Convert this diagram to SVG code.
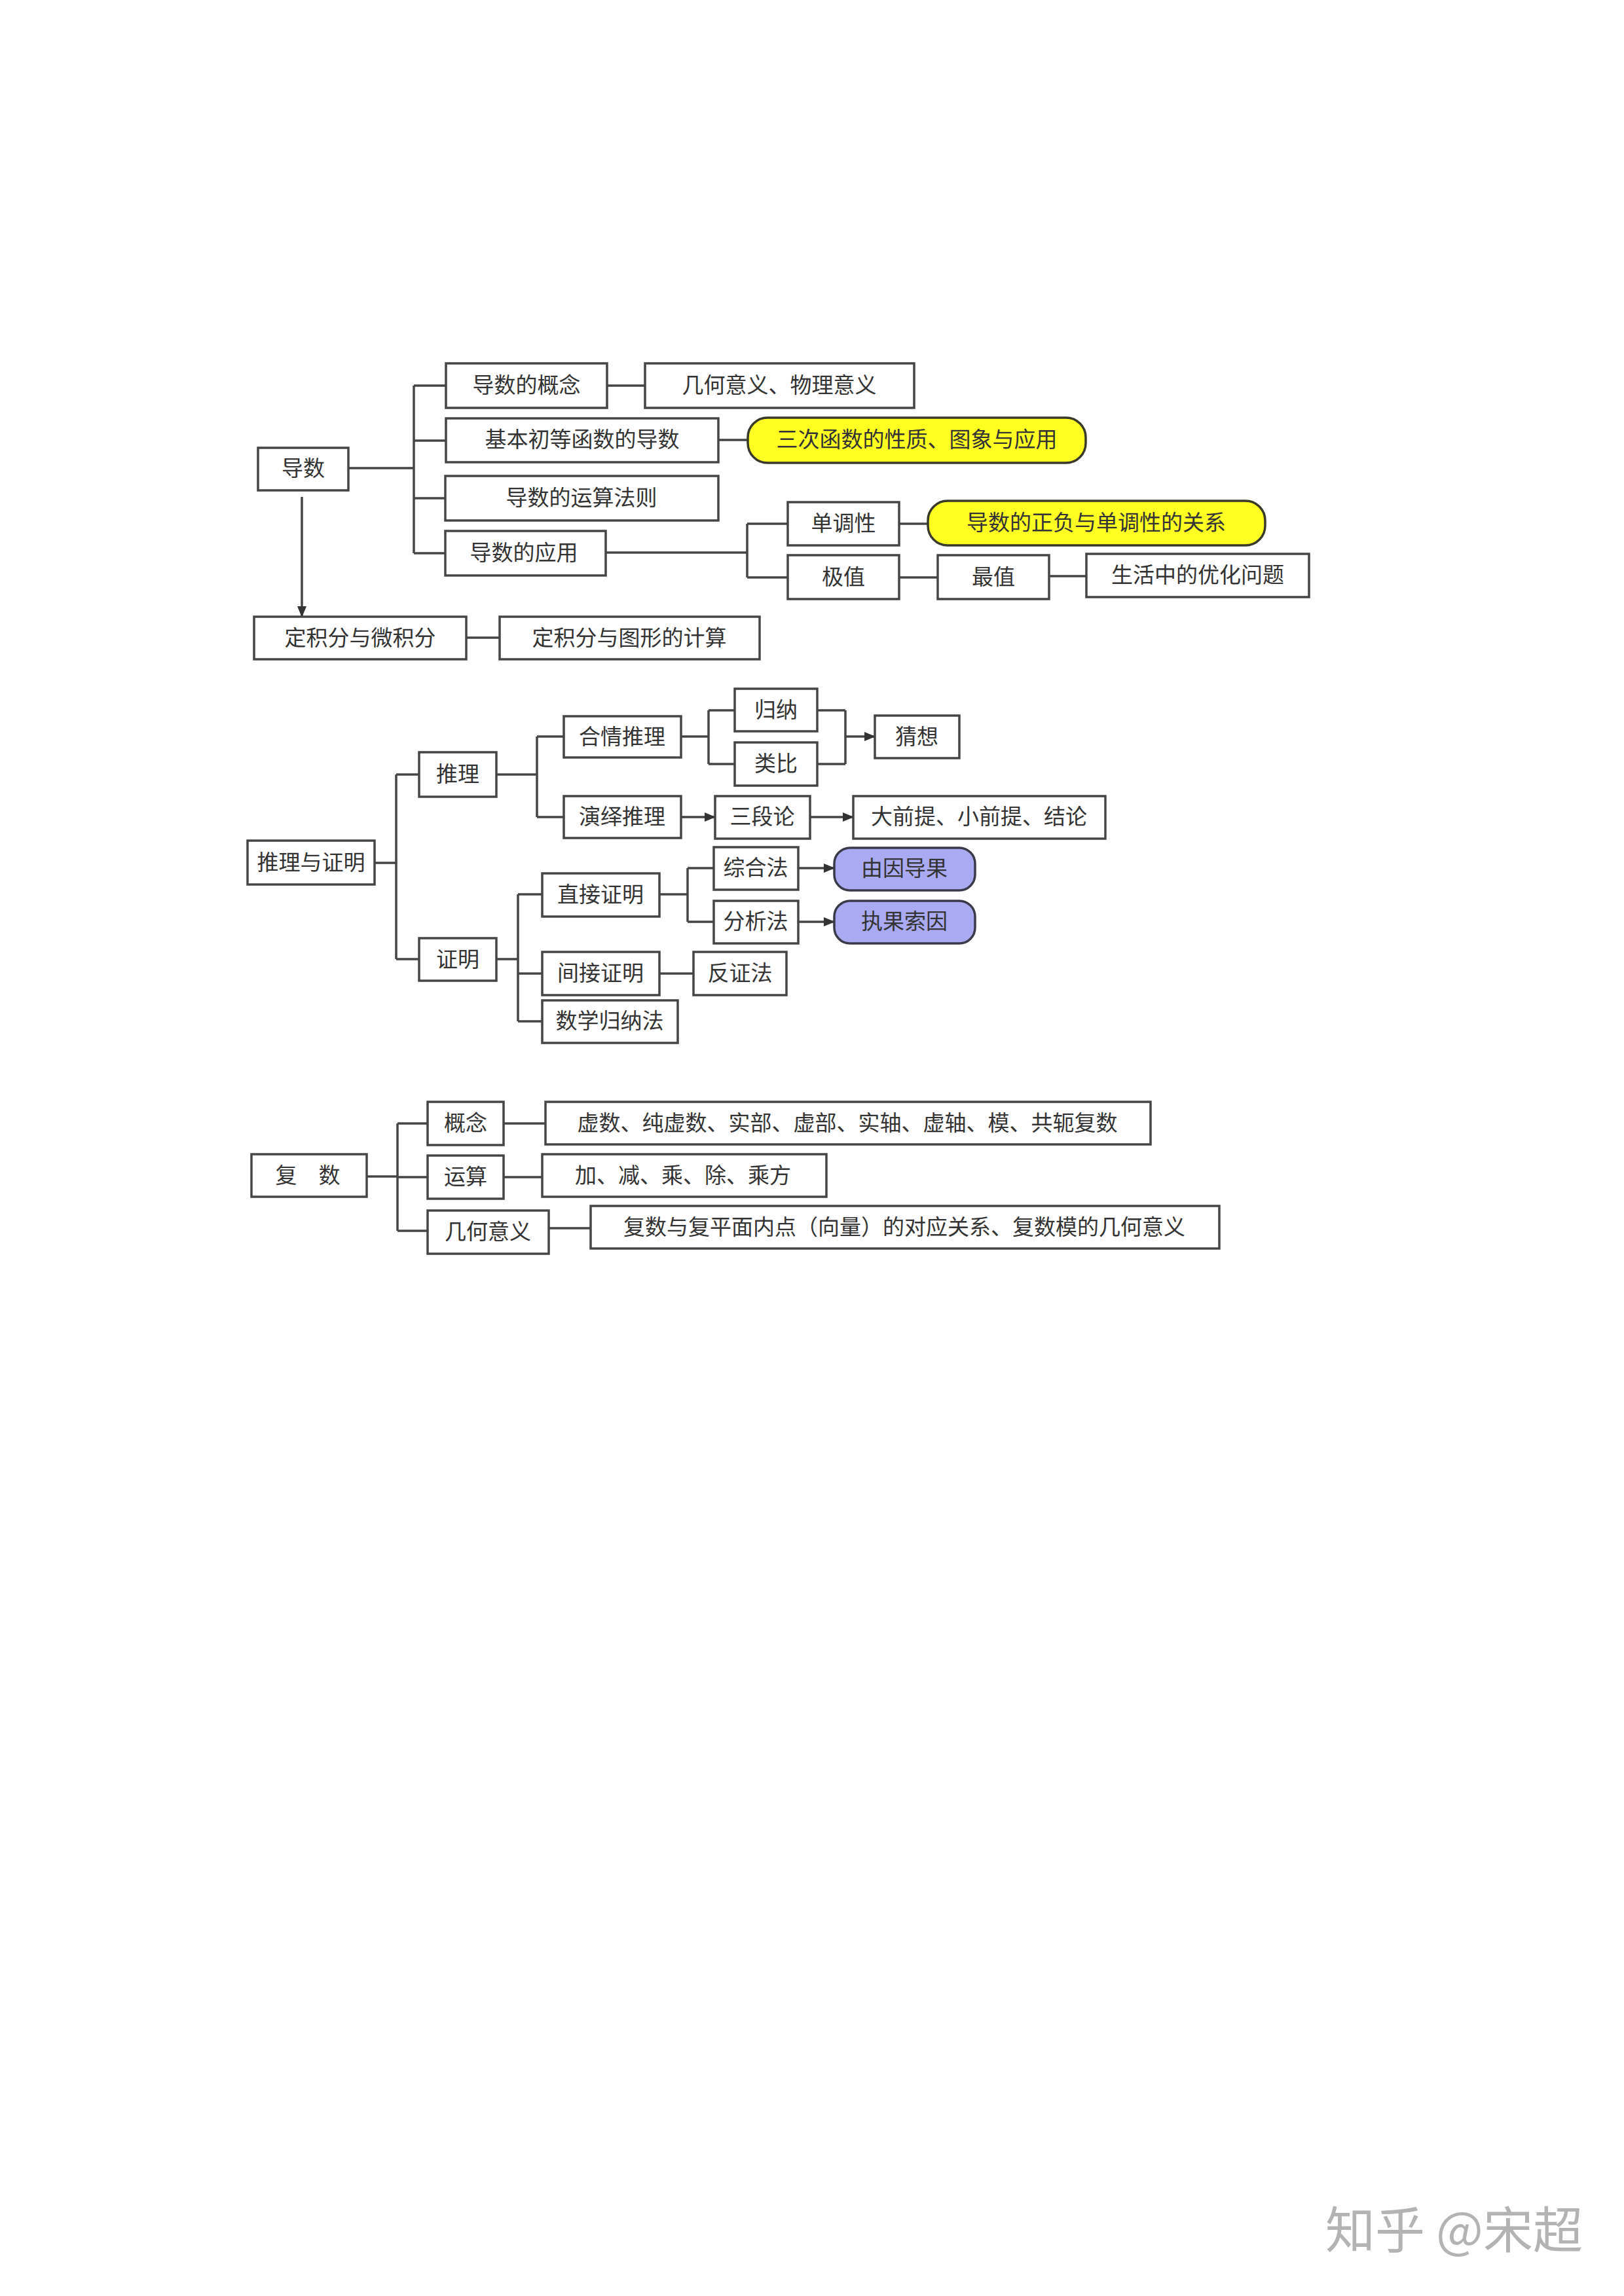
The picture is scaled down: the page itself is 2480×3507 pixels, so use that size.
<svg xmlns="http://www.w3.org/2000/svg" width="2480" height="3507" viewBox="0 0 2480 3507">
<style>
.b{fill:#fff;stroke:#454545;stroke-width:3.5}
.y{fill:#ffff22;stroke:#3a3a2a;stroke-width:3.5}
.p{fill:#aaaaf2;stroke:#3a3a4a;stroke-width:3.5}
.t{font-family:"Noto Sans CJK SC","Noto Sans",sans-serif;font-size:33px;fill:#333;text-anchor:middle;dominant-baseline:central;transform:translateY(-3px)}
.c line,.c path{stroke:#454545;stroke-width:3.5;fill:none}
.wm{font-family:"Noto Sans CJK SC","Noto Sans",sans-serif;font-size:76px;fill:#b3b3b3}
</style>
<defs>
<marker id="ar" markerUnits="userSpaceOnUse" markerWidth="18" markerHeight="16" refX="16" refY="8" orient="auto">
<path d="M0,1 L17,8 L0,15 Z" fill="#333"/>
</marker>
</defs>
<rect width="2480" height="3507" fill="#fff"/>

<g class="c" id="connectors">
<!-- section 1 -->
<line x1="532" y1="715" x2="632" y2="715"/>
<line x1="632" y1="589" x2="632" y2="845"/>
<line x1="632" y1="589" x2="681" y2="589"/>
<line x1="632" y1="673" x2="681" y2="673"/>
<line x1="632" y1="761" x2="680" y2="761"/>
<line x1="632" y1="845" x2="680" y2="845"/>
<line x1="927" y1="589" x2="985" y2="589"/>
<line x1="1097" y1="672" x2="1142" y2="672"/>
<line x1="925" y1="844" x2="1141" y2="844"/>
<line x1="1141" y1="800" x2="1141" y2="882"/>
<line x1="1141" y1="800" x2="1203" y2="800"/>
<line x1="1141" y1="882" x2="1203" y2="882"/>
<line x1="1373" y1="800" x2="1417" y2="800"/>
<line x1="1373" y1="882" x2="1432" y2="882"/>
<line x1="1602" y1="880" x2="1659" y2="880"/>
<line x1="461" y1="759" x2="461" y2="942" marker-end="url(#ar)"/>
<line x1="712" y1="974" x2="763" y2="974"/>
<!-- section 2 -->
<line x1="572" y1="1318" x2="605" y2="1318"/>
<line x1="605" y1="1183" x2="605" y2="1465"/>
<line x1="605" y1="1183" x2="640" y2="1183"/>
<line x1="605" y1="1465" x2="640" y2="1465"/>
<line x1="758" y1="1183" x2="820" y2="1183"/>
<line x1="820" y1="1125" x2="820" y2="1248"/>
<line x1="820" y1="1125" x2="861" y2="1125"/>
<line x1="820" y1="1248" x2="861" y2="1248"/>
<line x1="1040" y1="1125" x2="1082" y2="1125"/>
<line x1="1082" y1="1085" x2="1082" y2="1167"/>
<line x1="1082" y1="1085" x2="1122" y2="1085"/>
<line x1="1082" y1="1167" x2="1122" y2="1167"/>
<line x1="1248" y1="1085" x2="1291" y2="1085"/>
<line x1="1248" y1="1167" x2="1291" y2="1167"/>
<line x1="1291" y1="1085" x2="1291" y2="1167"/>
<line x1="1291" y1="1125" x2="1336" y2="1125" marker-end="url(#ar)"/>
<line x1="1040" y1="1248" x2="1092" y2="1248" marker-end="url(#ar)"/>
<line x1="1237" y1="1248" x2="1303" y2="1248" marker-end="url(#ar)"/>
<line x1="758" y1="1465" x2="791" y2="1465"/>
<line x1="791" y1="1366" x2="791" y2="1560"/>
<line x1="791" y1="1366" x2="828" y2="1366"/>
<line x1="791" y1="1487" x2="828" y2="1487"/>
<line x1="791" y1="1560" x2="828" y2="1560"/>
<line x1="1007" y1="1366" x2="1050" y2="1366"/>
<line x1="1050" y1="1326" x2="1050" y2="1408"/>
<line x1="1050" y1="1326" x2="1090" y2="1326"/>
<line x1="1050" y1="1408" x2="1090" y2="1408"/>
<line x1="1219" y1="1326" x2="1274" y2="1326" marker-end="url(#ar)"/>
<line x1="1219" y1="1408" x2="1274" y2="1408" marker-end="url(#ar)"/>
<line x1="1007" y1="1487" x2="1059" y2="1487"/>
<!-- section 3 -->
<line x1="560" y1="1797" x2="607" y2="1797"/>
<line x1="607" y1="1716" x2="607" y2="1880"/>
<line x1="607" y1="1716" x2="653" y2="1716"/>
<line x1="607" y1="1798" x2="653" y2="1798"/>
<line x1="607" y1="1880" x2="653" y2="1880"/>
<line x1="769" y1="1716" x2="833" y2="1716"/>
<line x1="769" y1="1798" x2="828" y2="1798"/>
<line x1="838" y1="1876" x2="902" y2="1876"/>
</g>

<!-- section 1 nodes -->
<g id="n_daoshu"><rect class="b" x="394" y="684" width="138" height="65"/><text class="t" x="463" y="716">导数</text></g>
<g id="n_gainian"><rect class="b" x="681" y="555" width="246" height="68"/><text class="t" x="804" y="589">导数的概念</text></g>
<g id="n_jihe"><rect class="b" x="985" y="555" width="411" height="68"/><text class="t" x="1190" y="589">几何意义、物理意义</text></g>
<g id="n_jiben"><rect class="b" x="681" y="639" width="416" height="67"/><text class="t" x="889" y="672">基本初等函数的导数</text></g>
<g id="n_sanci"><rect class="y" x="1142" y="638" width="516" height="69" rx="30"/><text class="t" x="1400" y="672">三次函数的性质、图象与应用</text></g>
<g id="n_yunsuan"><rect class="b" x="680" y="727" width="417" height="68"/><text class="t" x="888" y="761">导数的运算法则</text></g>
<g id="n_yingyong"><rect class="b" x="680" y="811" width="245" height="68"/><text class="t" x="800" y="845">导数的应用</text></g>
<g id="n_dandiao"><rect class="b" x="1203" y="767" width="170" height="66"/><text class="t" x="1288" y="800">单调性</text></g>
<g id="n_zhengfu"><rect class="y" x="1417" y="765" width="515" height="68" rx="30"/><text class="t" x="1674" y="799">导数的正负与单调性的关系</text></g>
<g id="n_jizhi"><rect class="b" x="1203" y="848" width="170" height="67"/><text class="t" x="1288" y="882">极值</text></g>
<g id="n_zuizhi"><rect class="b" x="1432" y="848" width="170" height="67"/><text class="t" x="1517" y="882">最值</text></g>
<g id="n_shenghuo"><rect class="b" x="1659" y="846" width="340" height="66"/><text class="t" x="1829" y="879">生活中的优化问题</text></g>
<g id="n_dingji"><rect class="b" x="388" y="942" width="324" height="65"/><text class="t" x="550" y="975">定积分与微积分</text></g>
<g id="n_tuxing"><rect class="b" x="763" y="942" width="397" height="65"/><text class="t" x="961" y="975">定积分与图形的计算</text></g>

<!-- section 2 nodes -->
<g id="n_tlzm"><rect class="b" x="378" y="1284" width="194" height="67"/><text class="t" x="475" y="1318">推理与证明</text></g>
<g id="n_tuili"><rect class="b" x="640" y="1149" width="118" height="68"/><text class="t" x="699" y="1183">推理</text></g>
<g id="n_zhengming"><rect class="b" x="640" y="1433" width="118" height="65"/><text class="t" x="699" y="1466">证明</text></g>
<g id="n_heqing"><rect class="b" x="861" y="1094" width="179" height="63"/><text class="t" x="950" y="1126">合情推理</text></g>
<g id="n_yanyi"><rect class="b" x="861" y="1216" width="179" height="64"/><text class="t" x="950" y="1248">演绎推理</text></g>
<g id="n_guina"><rect class="b" x="1122" y="1052" width="126" height="65"/><text class="t" x="1185" y="1085">归纳</text></g>
<g id="n_leibi"><rect class="b" x="1122" y="1134" width="126" height="66"/><text class="t" x="1185" y="1167">类比</text></g>
<g id="n_caixiang"><rect class="b" x="1336" y="1093" width="129" height="65"/><text class="t" x="1400" y="1126">猜想</text></g>
<g id="n_sanduan"><rect class="b" x="1092" y="1216" width="145" height="65"/><text class="t" x="1164" y="1248">三段论</text></g>
<g id="n_daqianti"><rect class="b" x="1303" y="1216" width="385" height="65"/><text class="t" x="1495" y="1248">大前提、小前提、结论</text></g>
<g id="n_zhijie"><rect class="b" x="828" y="1334" width="179" height="66"/><text class="t" x="917" y="1367">直接证明</text></g>
<g id="n_zonghe"><rect class="b" x="1090" y="1294" width="129" height="65"/><text class="t" x="1154" y="1326">综合法</text></g>
<g id="n_fenxi"><rect class="b" x="1090" y="1376" width="129" height="65"/><text class="t" x="1154" y="1408">分析法</text></g>
<g id="n_youyin"><rect class="p" x="1274" y="1295" width="215" height="65" rx="24"/><text class="t" x="1381" y="1327">由因导果</text></g>
<g id="n_zhiguo"><rect class="p" x="1274" y="1376" width="215" height="65" rx="24"/><text class="t" x="1381" y="1408">执果索因</text></g>
<g id="n_jianjie"><rect class="b" x="828" y="1454" width="179" height="66"/><text class="t" x="917" y="1487">间接证明</text></g>
<g id="n_fanzheng"><rect class="b" x="1059" y="1454" width="142" height="66"/><text class="t" x="1130" y="1487">反证法</text></g>
<g id="n_guinafa"><rect class="b" x="828" y="1528" width="207" height="65"/><text class="t" x="931" y="1560">数学归纳法</text></g>

<!-- section 3 nodes -->
<g id="n_fushu"><rect class="b" x="384" y="1763" width="176" height="65"/><text class="t" x="470" y="1796">复　数</text></g>
<g id="n_gn"><rect class="b" x="653" y="1683" width="116" height="66"/><text class="t" x="711" y="1716">概念</text></g>
<g id="n_ys"><rect class="b" x="653" y="1765" width="116" height="66"/><text class="t" x="711" y="1798">运算</text></g>
<g id="n_jh"><rect class="b" x="653" y="1849" width="185" height="66"/><text class="t" x="745" y="1882">几何意义</text></g>
<g id="n_xu"><rect class="b" x="833" y="1683" width="924" height="65"/><text class="t" x="1294" y="1716">虚数、纯虚数、实部、虚部、实轴、虚轴、模、共轭复数</text></g>
<g id="n_jia"><rect class="b" x="828" y="1763" width="434" height="65"/><text class="t" x="1043" y="1796">加、减、乘、除、乘方</text></g>
<g id="n_fp"><rect class="b" x="902" y="1842" width="960" height="65"/><text class="t" x="1381" y="1875">复数与复平面内点（向量）的对应关系、复数模的几何意义</text></g>

<text class="wm" x="2024" y="3434">知乎 @宋超</text>
</svg>
